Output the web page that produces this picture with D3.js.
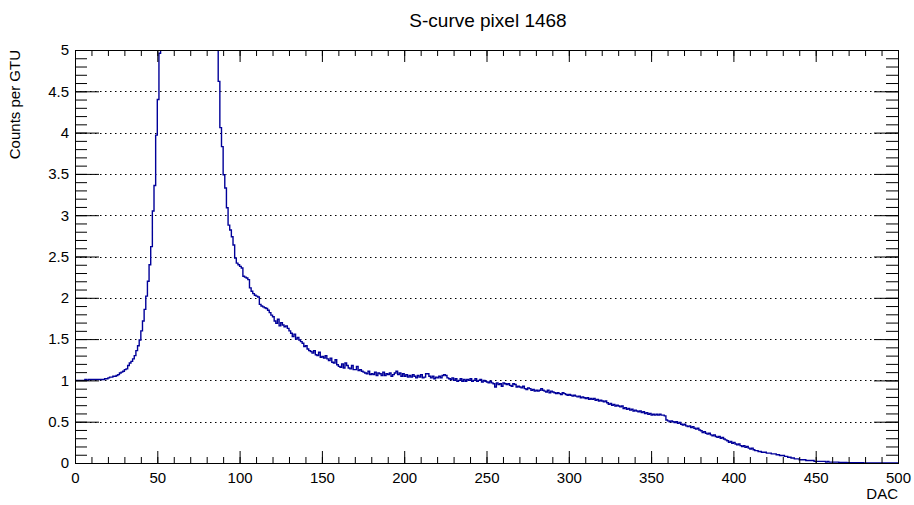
<!DOCTYPE html>
<html>
<head>
<meta charset="utf-8">
<script src="https://cdn.jsdelivr.net/npm/d3@7"></script>
<style>
  body { margin: 0; background: #fff; }
  svg { display: block; font-family: "Liberation Sans", Arial, sans-serif; }
  .grid-line { stroke: #000; stroke-width: 1; stroke-dasharray: 1.5 3.5; }
  .hist { fill: none; stroke: #000099; stroke-width: 1.4; }
</style>
</head>
<body>
<div id="chart"></div>
<script>
// S-curve of one pixel: counts per GTU for each DAC threshold (1 DAC per bin)
const title = "S-curve pixel 1468";
const xTitle = "DAC";
const yTitle = "Counts per GTU";
const xDomain = [0, 500];
const yDomain = [0, 5];
const xTicks = [0, 50, 100, 150, 200, 250, 300, 350, 400, 450, 500];
const yTicks = [0, 0.5, 1, 1.5, 2, 2.5, 3, 3.5, 4, 4.5, 5];
const yTickLabels = ["0", "0.5", "1", "1.5", "2", "2.5", "3", "3.5", "4", "4.5", "5"];
const gridValues = [0.5, 1, 1.5, 2, 2.5, 3, 3.5, 4, 4.5];

const counts = [
  1.00, 1.00, 1.00, 1.00, 1.00, 1.00, 1.01, 1.00, 1.01, 1.01, 1.01, 1.01, 1.01, 1.01, 1.01, 1.01, 1.01, 1.01, 1.02, 1.02,
  1.03, 1.04, 1.04, 1.05, 1.05, 1.06, 1.07, 1.09, 1.10, 1.11, 1.13, 1.14, 1.18, 1.21, 1.23, 1.26, 1.30, 1.36, 1.42, 1.49,
  1.60, 1.72, 1.86, 2.02, 2.20, 2.40, 2.62, 3.05, 3.36, 3.97, 4.40, 4.96, 5.8, 6.9, 8.2, 9.8, 11.5, 13.4, 15.2, 17.0,
  18.5, 19.8, 20.6, 21.1, 21.3, 21.0, 20.4, 19.6, 18.6, 17.5, 16.3, 15.1, 13.9, 12.8, 11.7, 10.7, 9.8, 9.0, 8.3, 7.6,
  7.0, 6.5, 6.1, 5.7, 5.4, 5.2, 5.05, 4.62, 4.06, 3.83, 3.49, 3.33, 3.09, 2.88, 2.82, 2.74, 2.64, 2.48, 2.42, 2.40,
  2.38, 2.36, 2.26, 2.25, 2.24, 2.22, 2.12, 2.08, 2.05, 2.03, 2.02, 2.01, 1.92, 1.90, 1.89, 1.88, 1.87, 1.85, 1.82, 1.79,
  1.77, 1.72, 1.69, 1.74, 1.66, 1.70, 1.67, 1.65, 1.66, 1.63, 1.60, 1.57, 1.53, 1.56, 1.50, 1.52, 1.49, 1.47, 1.45, 1.41,
  1.42, 1.38, 1.36, 1.35, 1.33, 1.36, 1.31, 1.30, 1.34, 1.28, 1.29, 1.27, 1.30, 1.26, 1.24, 1.27, 1.22, 1.21, 1.25, 1.19,
  1.17, 1.16, 1.20, 1.15, 1.21, 1.18, 1.15, 1.14, 1.18, 1.13, 1.13, 1.17, 1.12, 1.13, 1.11, 1.10, 1.09, 1.08, 1.11, 1.07,
  1.08, 1.07, 1.10, 1.06, 1.09, 1.08, 1.06, 1.10, 1.06, 1.08, 1.07, 1.09, 1.05, 1.07, 1.09, 1.11, 1.07, 1.09, 1.05, 1.08,
  1.05, 1.07, 1.04, 1.06, 1.04, 1.07, 1.05, 1.03, 1.06, 1.04, 1.07, 1.03, 1.04, 1.08, 1.08, 1.05, 1.03, 1.05, 1.02, 1.04,
  1.03, 1.05, 1.03, 1.06, 1.07, 1.06, 1.03, 1.02, 1.01, 1.03, 1.00, 1.02, 0.99, 1.00, 1.02, 0.99, 1.01, 0.99, 1.01, 1.00,
  1.02, 0.99, 1.00, 1.02, 0.99, 1.00, 1.01, 0.98, 1.00, 0.99, 0.98, 0.97, 0.99, 0.97, 0.96, 0.92, 0.97, 0.95, 0.96, 0.93,
  0.97, 0.96, 0.95, 0.96, 0.94, 0.93, 0.96, 0.95, 0.92, 0.93, 0.92, 0.91, 0.93, 0.90, 0.89, 0.91, 0.90, 0.88, 0.89, 0.87,
  0.88, 0.87, 0.88, 0.90, 0.88, 0.87, 0.86, 0.88, 0.85, 0.87, 0.86, 0.85, 0.84, 0.85, 0.84, 0.83, 0.85, 0.84, 0.83, 0.82,
  0.83, 0.82, 0.81, 0.82, 0.81, 0.80, 0.81, 0.79, 0.80, 0.79, 0.78, 0.79, 0.77, 0.78, 0.77, 0.78, 0.76, 0.77, 0.75, 0.76,
  0.75, 0.74, 0.75, 0.73, 0.71, 0.72, 0.70, 0.71, 0.69, 0.70, 0.69, 0.68, 0.69, 0.66, 0.67, 0.65, 0.66, 0.64, 0.65, 0.63,
  0.64, 0.63, 0.62, 0.63, 0.61, 0.62, 0.60, 0.61, 0.59, 0.60, 0.58, 0.59, 0.58, 0.59, 0.58, 0.59, 0.58, 0.58, 0.57, 0.52,
  0.51, 0.50, 0.51, 0.50, 0.49, 0.50, 0.48, 0.49, 0.47, 0.46, 0.47, 0.45, 0.44, 0.45, 0.43, 0.44, 0.42, 0.41, 0.42, 0.40,
  0.39, 0.37, 0.38, 0.36, 0.35, 0.36, 0.34, 0.33, 0.34, 0.32, 0.31, 0.32, 0.30, 0.31, 0.29, 0.28, 0.27, 0.25, 0.26, 0.24,
  0.25, 0.23, 0.22, 0.23, 0.21, 0.20, 0.21, 0.19, 0.20, 0.18, 0.17, 0.18, 0.16, 0.15, 0.15, 0.14, 0.14, 0.13, 0.13, 0.13,
  0.12, 0.12, 0.12, 0.11, 0.11, 0.11, 0.10, 0.10, 0.09, 0.09, 0.09, 0.08, 0.08, 0.07, 0.07, 0.06, 0.06, 0.05, 0.05, 0.05,
  0.04, 0.04, 0.04, 0.04, 0.03, 0.03, 0.03, 0.03, 0.03, 0.02, 0.02, 0.02, 0.02, 0.02, 0.02, 0.02, 0.01, 0.02, 0.01, 0.01,
  0.01, 0.01, 0.01, 0.01, 0.008, 0.008, 0.007, 0.006, 0.006, 0.005, 0.005, 0.005, 0.004, 0.004, 0.004, 0.003, 0.003, 0.003, 0.003, 0.002,
  0.002, 0.002, 0.002, 0.002, 0.001, 0.001, 0.001, 0.001, 0.001, 0.001, 0.001, 0.001, 0, 0, 0, 0, 0, 0, 0, 0
];

const W = 914, H = 505;
const margin = { top: 50, right: 16, bottom: 42, left: 75 };
const width = W - margin.left - margin.right;
const height = H - margin.top - margin.bottom;

const svg = d3.select("#chart").append("svg")
  .attr("width", W)
  .attr("height", H);

const g = svg.append("g")
  .attr("transform", `translate(${margin.left},${margin.top})`);

const x = d3.scaleLinear().domain(xDomain).range([0, width]);
const y = d3.scaleLinear().domain(yDomain).range([height, 0]);

// dotted horizontal grid
g.append("g")
  .selectAll("line")
  .data(gridValues)
  .join("line")
  .attr("class", "grid-line")
  .attr("x1", 0)
  .attr("x2", width)
  .attr("y1", d => Math.round(y(d)) + 0.5)
  .attr("y2", d => Math.round(y(d)) + 0.5);

// histogram as a step line, clipped to the frame
svg.append("defs").append("clipPath")
  .attr("id", "frame-clip")
  .append("rect")
  .attr("width", width)
  .attr("height", height);

const pts = counts.map((v, i) => [i, v]);
pts.push([counts.length, counts[counts.length - 1]]);

const line = d3.line()
  .x(d => x(d[0]))
  .y(d => y(d[1]))
  .curve(d3.curveStepAfter);

g.append("path")
  .datum(pts)
  .attr("class", "hist")
  .attr("clip-path", "url(#frame-clip)")
  .attr("d", line);

// ROOT style ticks: inside, mirrored on opposite sides
function tickGroup(axis, tx, ty) {
  const a = g.append("g").attr("transform", `translate(${tx},${ty})`).call(axis);
  a.select(".domain").remove();
  a.selectAll("line").attr("stroke", "#000");
  return a;
}

const xMinor = d3.range(0, 501, 10);
const yMinor = d3.range(0, 51).map(d => d / 10);

// bottom
tickGroup(d3.axisBottom(x).tickValues(xMinor).tickSize(-6).tickFormat(""), 0, height);
const xMajor = tickGroup(d3.axisBottom(x).tickValues(xTicks).tickSize(-12).tickPadding(9).tickFormat(d3.format("d")), 0, height);
xMajor.selectAll("text").attr("font-size", 15).attr("fill", "#000").attr("font-family", "Liberation Sans, Arial, sans-serif");
// top
tickGroup(d3.axisTop(x).tickValues(xMinor).tickSize(-6).tickFormat(""), 0, 0);
tickGroup(d3.axisTop(x).tickValues(xTicks).tickSize(-12).tickFormat(""), 0, 0);

// left
tickGroup(d3.axisLeft(y).tickValues(yMinor).tickSize(-12).tickFormat(""), 0, 0);
const yMajor = tickGroup(d3.axisLeft(y).tickValues(yTicks).tickSize(-24).tickPadding(6)
  .tickFormat((d, i) => yTickLabels[i]), 0, 0);
yMajor.selectAll("text").attr("font-size", 15).attr("fill", "#000").attr("font-family", "Liberation Sans, Arial, sans-serif");
// right
tickGroup(d3.axisRight(y).tickValues(yMinor).tickSize(-12).tickFormat(""), width, 0);
tickGroup(d3.axisRight(y).tickValues(yTicks).tickSize(-24).tickFormat(""), width, 0);

// frame
g.append("rect")
  .attr("x", 0.5)
  .attr("y", 0.5)
  .attr("width", width)
  .attr("height", height)
  .attr("fill", "none")
  .attr("stroke", "#000")
  .attr("stroke-width", 1);

// titles
svg.append("text")
  .attr("x", 488)
  .attr("y", 27)
  .attr("text-anchor", "middle")
  .attr("font-size", 19)
  .text(title);

svg.append("text")
  .attr("x", margin.left + width)
  .attr("y", 499)
  .attr("text-anchor", "end")
  .attr("font-size", 15)
  .text(xTitle);

svg.append("text")
  .attr("transform", `translate(20,${margin.top}) rotate(-90)`)
  .attr("text-anchor", "end")
  .attr("font-size", 15)
  .text(yTitle);
</script>
</body>
</html>
